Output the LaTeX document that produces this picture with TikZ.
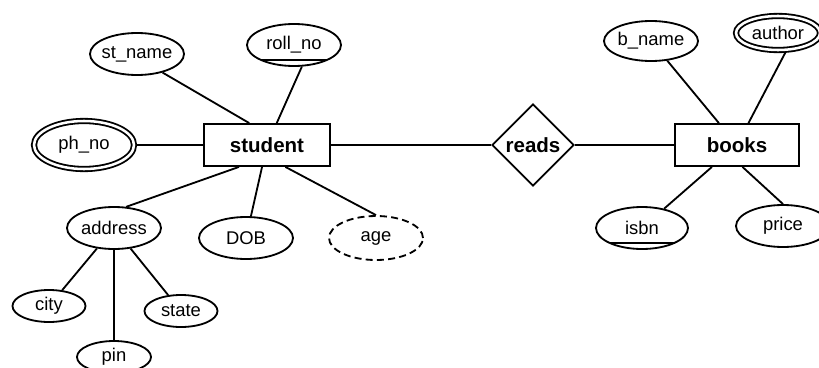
\documentclass[tikz,border=0pt]{standalone}
\usepackage{fontspec}
\setmainfont{Liberation Sans}
\usepackage{tikz}
\usetikzlibrary{shapes.geometric}
\usetikzlibrary{positioning}
\tikzstyle{entity} =
[
	draw,rectangle,line width=1.3pt,inner sep=0pt,
	minimum width=3.15cm, minimum height=1.05cm,
	font=\fontsize{14.6}{17}\selectfont\bfseries
]
\tikzstyle{relation} =
[
	draw,diamond,line width=1.3pt,inner sep=0pt,
	minimum width=2.05cm, minimum height=2.05cm,
	font=\fontsize{14.6}{17}\selectfont\bfseries
]
\tikzstyle{attrib} =
[
	draw,ellipse,line width=1.3pt,inner xsep=-0.08cm,inner ysep=0pt,
	minimum width=2.35cm, minimum height=1.05cm,
	font=\fontsize{13.1}{15}\selectfont
]
\tikzstyle{multi} =
[
	attrib, double, double distance=1.8pt, outer sep=2.2pt
]
\tikzstyle{derived} =
[
	attrib, dash pattern=on 5pt off 3pt
]
\tikzstyle{keyattr} =
[
	attrib,
	path picture={\draw[line width=1.3pt]
		([yshift=0.16cm]path picture bounding box.south west) --
		([yshift=0.16cm]path picture bounding box.south east);}
]

\begin{document}
\begin{tikzpicture}[-,line width=1.3pt,on grid]
\useasboundingbox (-6.675,-5.55) rectangle (13.8,3.625);

\node[entity] (student) {student};
\node[relation] (reads) [right=6.65cm of student] {reads};
\node[entity, minimum width=3.1cm] (books) [right=5.1cm of reads] {books};

\node[attrib] (stname) [above left=2.275cm and 3.25cm of student] {st\_name};
\node[keyattr] (rollno) [above right=2.5cm and 0.675cm of student] {roll\_no};
\node[multi, minimum width=2.5cm, minimum height=1.2cm] (phno) [left=4.575cm of student] {ph\_no};
\node[attrib] (address) [below left=2.075cm and 3.825cm of student] {address};
\node[attrib] (dob) [below left=2.325cm and 0.525cm of student] {DOB};
\node[derived, minimum height=1.1cm] (age) [below right=2.325cm and 2.725cm of student] {age};

\node[attrib, minimum width=1.825cm, minimum height=0.8cm] (city) [below left=1.95cm and 1.625cm of address] {city};
\node[attrib, minimum width=1.85cm, minimum height=0.8cm] (pin) [below=3.225cm of address] {pin};
\node[attrib, minimum width=1.825cm, minimum height=0.8cm] (state) [below right=2.075cm and 1.675cm of address] {state};

\node[attrib, minimum height=1cm] (bname) [above left=2.6cm and 2.15cm of books] {b\_name};
\node[multi, minimum width=2.1cm, minimum height=0.85cm] (author) [above right=2.8cm and 1.025cm of books] {author};
\node[keyattr, minimum width=2.3cm] (isbn) [below left=2.075cm and 2.375cm of books] {isbn};
\node[attrib] (price) [below right=2.025cm and 1.15cm of books] {price};

\path
	(student) edge (reads)
	(reads) edge (books);

\path
	(stname.-36) edge (student.129)
	(rollno.-70) edge (student)
	(phno) edge (student)
	(student.-142) edge (address.60)
	(student) edge (dob)
	(student.-50) edge (age.north)
	(address) edge (city)
	(address) edge (pin)
	(address) edge (state);

\path
	(bname) edge (books)
	(author.-70) edge (books)
	(books) edge (isbn)
	(books.-76) edge (price.north);

\end{tikzpicture}
\end{document}
